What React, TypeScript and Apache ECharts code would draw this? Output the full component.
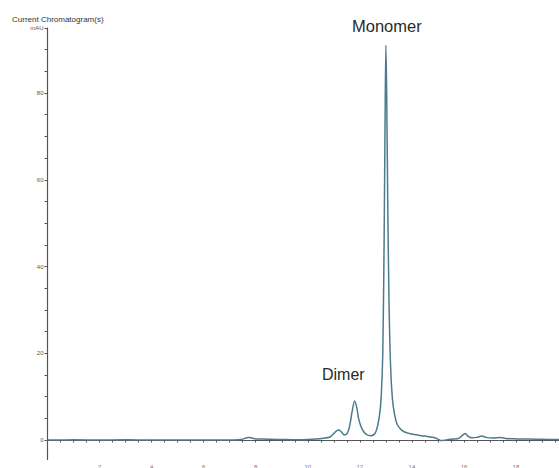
import React, { useEffect, useRef } from "react";
import * as echarts from "echarts";

const times = [
  0, 0.5, 1.0, 2.0, 3.0, 4.0, 5.0, 6.0, 7.0, 7.3, 7.5, 7.65, 7.75, 7.85, 8.0, 8.3, 8.6, 9.0, 9.5,
  10.0, 10.3, 10.6, 10.85, 11.0, 11.1, 11.2, 11.3, 11.4, 11.5, 11.6, 11.7, 11.8, 11.88, 11.95,
  12.05, 12.15, 12.25, 12.4, 12.55, 12.65, 12.75, 12.82, 12.88, 12.93, 12.97, 13.0, 13.03, 13.07,
  13.12, 13.18, 13.25, 13.33, 13.42, 13.55, 13.7, 13.9, 14.1, 14.35, 14.6, 14.85, 15.0, 15.1,
  15.25, 15.4, 15.6, 15.8, 15.95, 16.05, 16.15, 16.3, 16.5, 16.68, 16.85, 17.1, 17.4, 17.6, 18.0,
  18.5, 19.0, 19.65,
];
const mAU = [
  0, 0, 0.05, 0, 0.05, 0, 0, 0, 0, 0.05, 0.2, 0.5, 0.6, 0.45, 0.25, 0.2, 0.15, 0.1, 0.05,
  0.1, 0.2, 0.4, 0.7, 1.5, 2.1, 2.3, 1.8, 1.2, 1.4, 3.0, 6.5, 9.0, 7.5, 5.0,
  3.0, 1.9, 1.3, 1.0, 1.3, 2.5, 5.5, 10, 20, 45, 75, 91, 80, 55,
  32, 17, 9.5, 6, 3.8, 2.6, 1.9, 1.5, 1.25, 1.0, 0.8, 0.55, 0.2, -0.1,
  -0.05, 0.1, 0.2, 0.4, 1.1, 1.5, 0.9, 0.5, 0.6, 0.9, 0.6, 0.45, 0.55, 0.35, 0.25,
  0.2, 0.15, 0.1,
];
const yLabelValues = [0, 20, 40, 60, 80, 95];
const yTickValues = [0, 5, 10, 15, 20, 25, 30, 35, 40, 45, 50, 55, 60, 65, 70, 75, 80, 85, 90, 95];
const xLabelValues = [2, 4, 6, 8, 10, 12, 14, 16, 18];
const peakNames = ["Dimer", "Monomer"];

export default function App() {
  const ref = useRef<HTMLDivElement>(null);
  useEffect(() => {
    if (!ref.current) return;
    const chart = echarts.init(ref.current, undefined, { renderer: "svg" });
    const data = times.map((t, i) => [t, mAU[i]]);
    chart.setOption({
      animation: false,
      backgroundColor: "#ffffff",
      grid: { left: 47.5, top: 28, right: 0, bottom: 8.5, containLabel: false, outerBoundsMode: "none" },
      title: {
        text: "Current Chromatogram(s)",
        left: 12,
        top: 15,
        padding: 0,
        textStyle: { fontSize: 8, fontWeight: "normal", color: "#333", fontFamily: "Liberation Sans, Arial, sans-serif" },
      },
      xAxis: {
        type: "value",
        min: 0,
        max: 19.65,
        interval: 0.5,
        axisLine: { show: true, lineStyle: { color: "#555", width: 1.2 } },
        axisTick: { show: true, length: 2.5, lineStyle: { color: "#555" } },
        axisLabel: {
          show: true,
          customValues: xLabelValues,
          fontSize: 6,
          color: "#777",
          margin: 4,
          fontFamily: "Liberation Sans, Arial, sans-serif",
        },
        splitLine: { show: false },
      },
      yAxis: {
        type: "value",
        min: -4.5,
        max: 95,
        axisLine: { show: true, lineStyle: { color: "#555", width: 1.2 } },
        axisTick: { show: true, length: 3, customValues: yTickValues, lineStyle: { color: "#555" } },
        axisLabel: {
          show: true,
          customValues: yLabelValues,
          formatter: (v: number) => (v === 95 ? "mAU" : String(v)),
          fontSize: 6,
          color: "#555",
          margin: 4,
          fontFamily: "Liberation Sans, Arial, sans-serif",
        },
        splitLine: { show: false },
      },
      series: [
        {
          type: "line",
          data,
          showSymbol: false,
          smooth: 0.3,
          lineStyle: { color: "#4b7b8e", width: 1.5 },
          itemStyle: { color: "#4b7b8e" },
        },
      ],
      graphic: [
        {
          type: "text",
          left: 322,
          top: 366,
          style: { text: peakNames[0], fontSize: 16, fill: "#2a2a2a", fontFamily: "Liberation Sans, Arial, sans-serif" },
        },
        {
          type: "text",
          left: 352,
          top: 17,
          style: { text: peakNames[1], fontSize: 16.5, fill: "#2a2a2a", fontFamily: "Liberation Sans, Arial, sans-serif" },
        },
      ],
    });
    return () => chart.dispose();
  }, []);
  return (
    <div
      ref={ref}
      style={{ position: "fixed", left: 0, top: 0, width: 559, height: 468, background: "#fff" }}
    />
  );
}
